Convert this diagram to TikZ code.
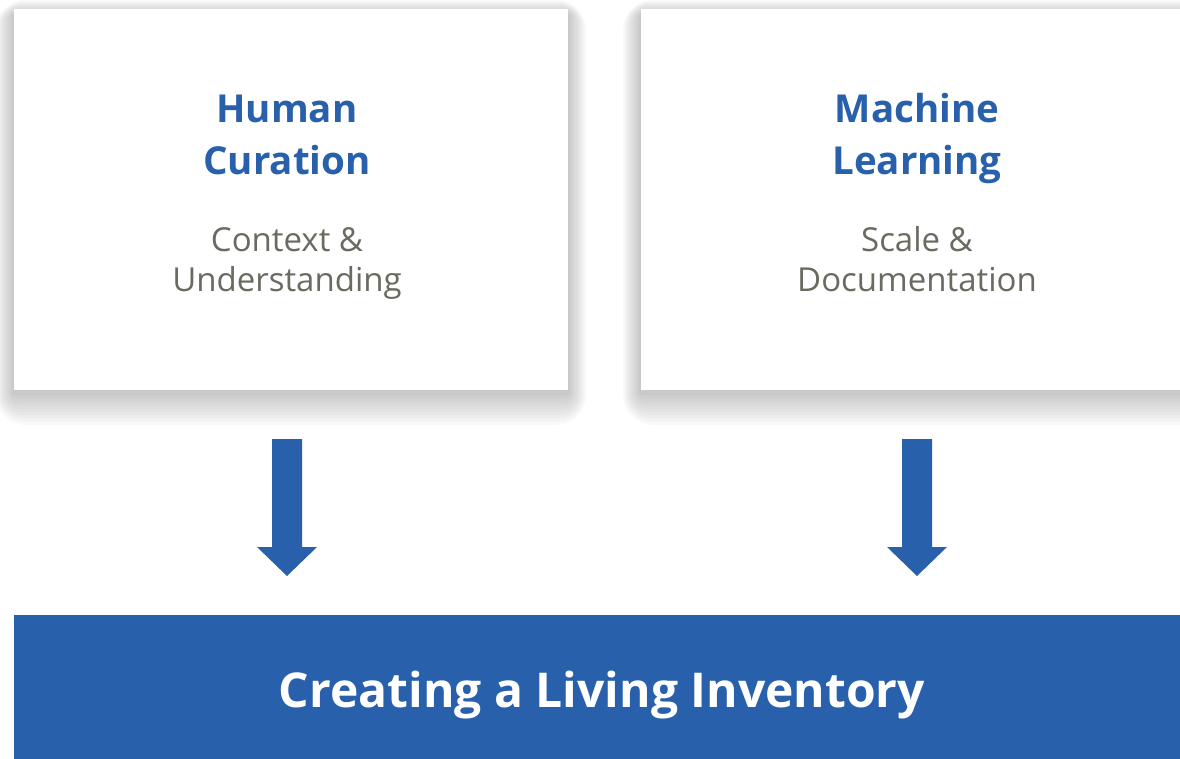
\documentclass[tikz,border=0pt]{standalone}
\usepackage{fontspec}
\setmainfont{Open Sans}
\definecolor{inkblue}{HTML}{2860AB}
\definecolor{subgray}{HTML}{6B6A60}

\begin{document}
\begin{tikzpicture}[x=1pt, y=-1pt,
  card/.style={fill=white, inner sep=0pt, anchor=north west, minimum height=381pt},
  headline/.style={text=inkblue, font=\fontsize{38.5}{44}\selectfont\bfseries, anchor=base, inner sep=0pt},
  subline/.style={text=subgray, font=\fontsize{33}{38}\selectfont, anchor=base, inner sep=0pt},
  blockarrow/.style={fill=inkblue, draw=none},
  banner/.style={fill=inkblue, inner sep=0pt, anchor=north west, minimum width=1180pt, minimum height=150pt}]
  \useasboundingbox (0,0) rectangle (1180,758);
  % soft shadows under the two cards
  \foreach \lx/\rx in {14/568, 641/1193}
    \foreach \r in {30,27,...,3}
      \fill[black, opacity=0.022, rounded corners=\r pt]
        (\lx-\r*0.6, 9+6-\r*0.5) rectangle (\rx+\r*0.6, 390+2+\r*1.1);
  % cards
  \node[card, minimum width=554pt] (human) at (14,9) {};
  \node[card, minimum width=552pt] (machine) at (641,9) {};
  % texts
  \node[headline] (humanA)   at (287,122) {Human};
  \node[headline] (humanB)   at (287,174) {Curation};
  \node[subline]  (humanC)   at (287,251) {Context \&};
  \node[subline]  (humanD)   at (287,291) {Understanding};
  \node[headline] (machineA) at (917,122) {Machine};
  \node[headline] (machineB) at (917,174) {Learning};
  \node[subline]  (machineC) at (917,251) {Scale \&};
  \node[subline]  (machineD) at (917,291) {Documentation};
  % banner
  \node[banner] (inventory) at (14,615) {};
  \node[text=white, font=\fontsize{48}{60}\selectfont\bfseries, anchor=base] (inventoryT) at (602,707) {Creating a Living Inventory};
  % arrows
  \foreach \cx in {287, 917}
    \fill[blockarrow] (\cx-15,439) -- (\cx+15,439) -- (\cx+15,547) -- (\cx+30,547)
      -- (\cx,576) -- (\cx-30,547) -- (\cx-15,547) -- cycle;
\end{tikzpicture}
\end{document}
